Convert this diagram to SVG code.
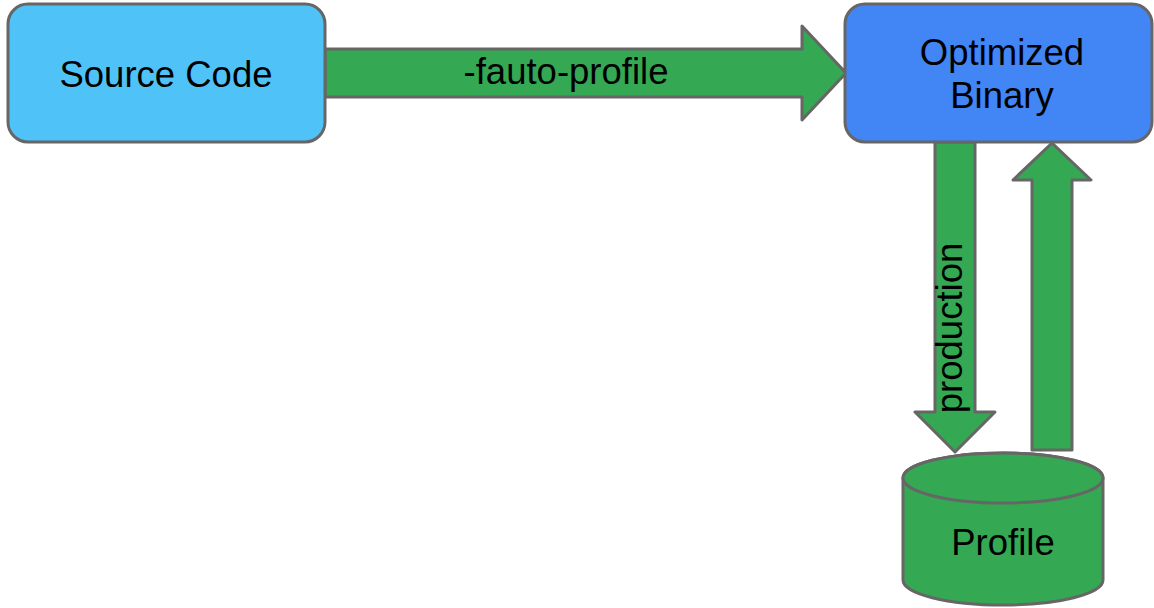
<svg xmlns="http://www.w3.org/2000/svg" width="1154" height="608" viewBox="0 0 1154 608">
<style>
.shape{stroke:#666666;stroke-width:3;stroke-linejoin:round}
.arrow{fill:#34A853}
.lbl{font-family:"Liberation Sans",Arial,sans-serif;font-size:36.5px;fill:#000;text-anchor:middle}
</style>
<rect width="1154" height="608" fill="#ffffff"/>
<g id="connectors">
<g id="edge-fauto">
<polygon class="shape arrow" points="325,49 802,49 802,26 846,73 802,120 802,97 325,97"/>
<text class="lbl" x="566" y="84">-fauto-profile</text>
</g>
<g id="edge-production">
<polygon class="shape arrow" points="935,142 975,142 975,412 995,412 955,452 915,412 935,412"/>
<text class="lbl" transform="translate(962,328) rotate(-90)" x="0" y="0">production</text>
</g>
<g id="edge-feedback">
<polygon class="shape arrow" points="1032,450 1032,180 1013,180 1052,143 1091,180 1072,180 1072,450"/>
</g>
</g>
<g id="node-source">
<rect class="shape" x="8" y="4" width="317" height="138" rx="20" fill="#4FC3F7"/>
<text class="lbl" x="166" y="87">Source Code</text>
</g>
<g id="node-binary">
<rect class="shape" x="845" y="4" width="307" height="138" rx="20" fill="#4285F4"/>
<text class="lbl" x="1002" y="65">Optimized</text>
<text class="lbl" x="1002" y="108">Binary</text>
</g>
<g id="node-profile">
<path class="shape arrow" d="M903,478 L903,580 A100,25 0 0 0 1103,580 L1103,478 A100,25 0 0 0 903,478 Z"/>
<ellipse class="shape arrow" cx="1003" cy="478" rx="100" ry="25"/>
<text class="lbl" x="1003" y="555">Profile</text>
</g>
</svg>
